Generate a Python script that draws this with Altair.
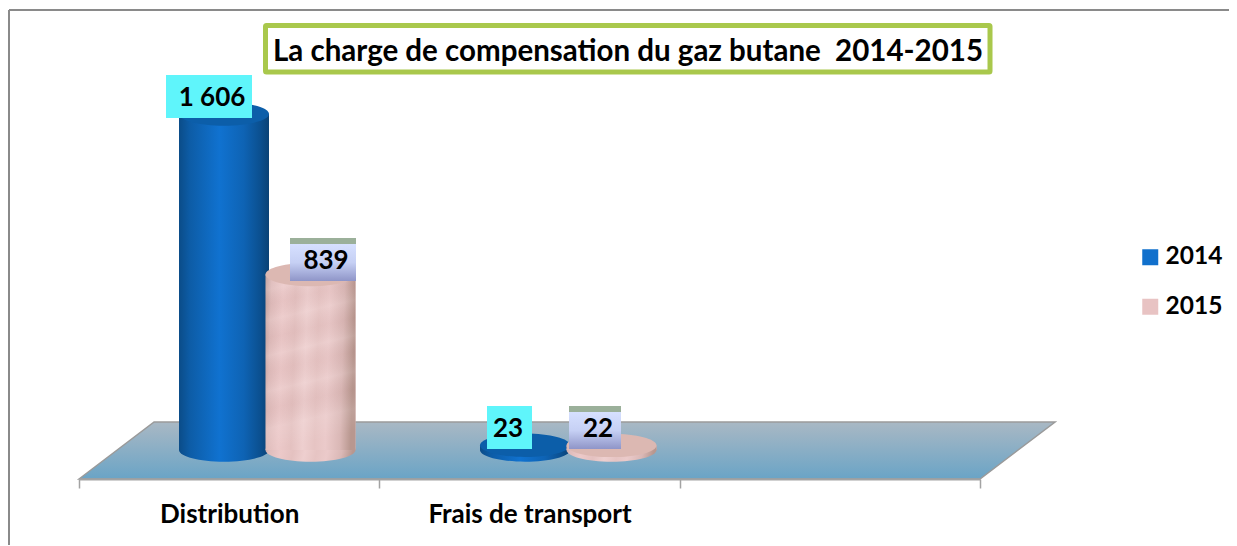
import altair as alt
import pandas as pd

categories = ["Distribution", "Frais de transport", ""]
series = ["2014", "2015"]
values_2014 = [1606, 23]
values_2015 = [839, 22]
label_2014 = ["1 606", "23"]
label_2015 = ["839", "22"]
TITLE = "La charge de compensation du gaz butane \u00a02014-2015"

FONT = "Lato"
# layout: chart pixels -> scale units
PX0, PX_UNIT = 79.0, 300.33
BASE_PY, PX_PER_VALUE = 450.0, 336.0 / 1606.0
ux = lambda px: (px - PX0) / PX_UNIT
uy = lambda py: (BASE_PY - py) / PX_PER_VALUE

XS = alt.Scale(domain=[0, 3], range=[71, 972], nice=False, zero=False)
YS = alt.Scale(domain=[0, 1606], range=[442, 106], nice=False, zero=False)
X = lambda f: alt.X(f"{f}:Q", scale=XS, axis=None)
X2 = lambda f: alt.X2(f"{f}:Q")
Y = lambda f: alt.Y(f"{f}:Q", scale=YS, axis=None)
Y2 = lambda f: alt.Y2(f"{f}:Q")

def grad(stops, x2=1, y2=0):
    return alt.Gradient(gradient="linear", x1=0, y1=0, x2=x2, y2=y2,
                        stops=[alt.GradientStop(offset=o, color=c) for o, c in stops])

BLUE_BODY = grad([(0, "#0b4c88"), (0.12, "#0d5ca6"), (0.45, "#1072d0"),
                  (0.72, "#0e63b4"), (0.9, "#0b5090"), (1, "#0a4275")])
PINK_BODY = grad([(0, "#c3a3a0"), (0.07, "#dfbcbb"), (0.2, "#ecc9c9"), (0.34, "#e4c1c0"),
                  (0.47, "#eecfcf"), (0.6, "#e6c4c3"), (0.72, "#ebcaca"), (0.88, "#dab8b6"),
                  (1, "#b8978f")], y2=0.06)
PINK_MOTTLE = grad([(0, "rgba(255,255,255,0)"), (0.09, "rgba(255,255,255,0.10)"), (0.17, "rgba(150,100,100,0.05)"),
                    (0.26, "rgba(255,255,255,0.09)"), (0.36, "rgba(150,100,100,0.06)"),
                    (0.46, "rgba(255,255,255,0.10)"), (0.55, "rgba(150,100,100,0.05)"),
                    (0.66, "rgba(255,255,255,0.10)"), (0.76, "rgba(150,100,100,0.06)"),
                    (0.87, "rgba(255,255,255,0.10)"), (1, "rgba(255,255,255,0)")], x2=0.12, y2=1)
BLUE_TOP = "#0c5ea9"
PINK_TOP = "#dcb8b2"
ELLIPSE = "M-1,0 A1,0.26 0 1 1 1,0 A1,0.26 0 1 1 -1,0 Z"

HALF = ux(45 + PX0)
centers = {"2014": [ux(224), ux(525)], "2015": [ux(310.5), ux(611.5)]}
vals = {"2014": values_2014, "2015": values_2015}

rows = []
for s in series:
    for i, c in enumerate(categories[:2]):
        v = vals[s][i]
        rows.append(dict(series=s, cat=c, value=v, base=0, cx=centers[s][i],
                         x0=centers[s][i] - HALF, x1=centers[s][i] + HALF))
bars = pd.DataFrame(rows)

floor = pd.DataFrame({
    "x": [0, 0.25, 3, 3.25],
    "top": [uy(479), uy(422), uy(422), uy(422)],
    "bottom": [uy(479), uy(479), uy(479), uy(422)],
})
floor_layer = alt.Chart(floor).mark_area(
    fill=grad([(0, "#a9b8c4"), (1, "#6aa4c6")], x2=0, y2=1),
    stroke="#9a9a9a", strokeWidth=1.5, interpolate="linear", opacity=1,
).encode(x=X("x"), y=Y("top"), y2=Y2("bottom"))

# Frame
frame = pd.DataFrame({"x0": [ux(9), ux(9)], "x1": [ux(1240), ux(9)],
                      "y0": [uy(10), uy(10)], "y1": [uy(10), uy(560)]})
frame_layer = alt.Chart(frame).mark_rule(color="#8a8a8a", strokeWidth=2).encode(
    x=X("x0"), x2=X2("x1"), y=Y("y0"), y2=Y2("y1"))

# Category axis (band scale, ticks between the categories)
axis_layer = alt.Chart(pd.DataFrame({"cat": categories})).mark_rect(opacity=0).encode(
    x=alt.X("cat:N", sort=categories,
            scale=alt.Scale(domain=categories, range=[71, 972], paddingInner=0, paddingOuter=0),
            title=None,
            axis=alt.Axis(orient="bottom", tickBand="extent", domainColor="#a3a3a3", domainWidth=2,
                          tickColor="#a3a3a3", tickWidth=1.5, tickSize=9, labelAngle=0,
                          labelFont=FONT, labelFontWeight="bold", labelFontSize=26, labelLimit=300,
                          labelColor="#000000", labelPadding=13, grid=False)),
)

# Flat bars carrying the colour legend
flat_layer = alt.Chart(bars).mark_rect().encode(
    x=X("x0"), x2=X2("x1"), y=Y("base"), y2=Y2("value"),
    color=alt.Color("series:N", scale=alt.Scale(domain=series, range=["#1170cc", "#e8c3c3"]),
                    legend=alt.Legend(orient="none", legendX=1130, legendY=237, title=None,
                                      symbolType="square", symbolSize=256, symbolStrokeWidth=0,
                                      labelFont=FONT, labelFontWeight="bold", labelFontSize=24.5,
                                      labelColor="#000000", labelOffset=3, rowPadding=24.5,
                                      labelLimit=200)),
)

def cylinder(s, body, top, overlay=None):
    d = bars[bars.series == s]
    w = 2 * HALF * PX_UNIT
    size = w * w
    pt = dict(shape=ELLIPSE, size=size, filled=True, opacity=1, strokeWidth=0)
    layers = [
        alt.Chart(d).mark_point(fill=body, **pt).encode(x=X("cx"), y=Y("base")),
        alt.Chart(d).mark_rect(fill=body).encode(x=X("x0"), x2=X2("x1"), y=Y("base"), y2=Y2("value")),
    ]
    if overlay is not None:
        layers.append(alt.Chart(d[d.value > 100]).mark_rect(fill=overlay).encode(
            x=X("x0"), x2=X2("x1"), y=Y("base"), y2=Y2("value")))
    layers.append(alt.Chart(d).mark_point(fill=top, **pt).encode(x=X("cx"), y=Y("value")))
    return layers

# Value label boxes
box_2014 = pd.DataFrame({
    "x0": [ux(166), ux(487)], "x1": [ux(252), ux(532)],
    "y0": [uy(75), uy(406)], "y1": [uy(118), uy(449)],
    "tx": [ux(212), ux(508)], "ty": [uy(98), uy(429)], "label": label_2014})
box_2015 = pd.DataFrame({
    "x0": [ux(290), ux(569)], "x1": [ux(356), ux(621)],
    "y0": [uy(244), uy(412)], "y1": [uy(281), uy(449)],
    "s0": [uy(238), uy(406)],
    "tx": [ux(326), ux(598)], "ty": [uy(261), uy(429)], "label": label_2015})

box_a = alt.Chart(box_2014).mark_rect(fill="#5ff5fb").encode(
    x=X("x0"), x2=X2("x1"), y=Y("y0"), y2=Y2("y1"))
box_b = alt.Chart(box_2015).mark_rect(
    fill=grad([(0, "#d6e0ff"), (0.5, "#c6d0f4"), (1, "#8f95c8")], x2=0, y2=1)).encode(
    x=X("x0"), x2=X2("x1"), y=Y("y0"), y2=Y2("y1"))
strip = alt.Chart(box_2015).mark_rect(fill="#9bb09a").encode(
    x=X("x0"), x2=X2("x1"), y=Y("s0"), y2=Y2("y0"))
text_kw = dict(font=FONT, fontWeight="bold", fontSize=26, color="#000000", baseline="middle", align="center")
txt_a = alt.Chart(box_2014).mark_text(**text_kw).encode(x=X("tx"), y=Y("ty"), text="label:N")
txt_b = alt.Chart(box_2015).mark_text(**text_kw).encode(x=X("tx"), y=Y("ty"), text="label:N")

# Title box
tb = pd.DataFrame({"x0": [ux(265.5)], "x1": [ux(990)], "y0": [uy(25.5)], "y1": [uy(72)]})
title_box = alt.Chart(tb).mark_rect(fill="#ffffff", stroke="#a9c84c", strokeWidth=5, cornerRadius=1).encode(
    x=X("x0"), x2=X2("x1"), y=Y("y0"), y2=Y2("y1"))

chart = alt.layer(
    frame_layer, floor_layer, axis_layer, flat_layer,
    *cylinder("2014", BLUE_BODY, BLUE_TOP),
    *cylinder("2015", PINK_BODY, PINK_TOP, PINK_MOTTLE),
    title_box, box_a, box_b, strip, txt_a, txt_b,
).resolve_scale(x="independent").properties(
    width=1221, height=471,
    autosize=alt.AutoSizeParams(type="none"),
    padding={"left": 0, "top": 0, "right": 0, "bottom": 66},
    title=alt.TitleParams(TITLE, font=FONT, fontWeight="bold", fontSize=29.5, color="#000000",
                          anchor="start", frame="group", orient="top", offset=-59, dx=265),
).configure_view(stroke=None)

chart.save("out.html", embed_options={"renderer": "svg", "actions": False})
